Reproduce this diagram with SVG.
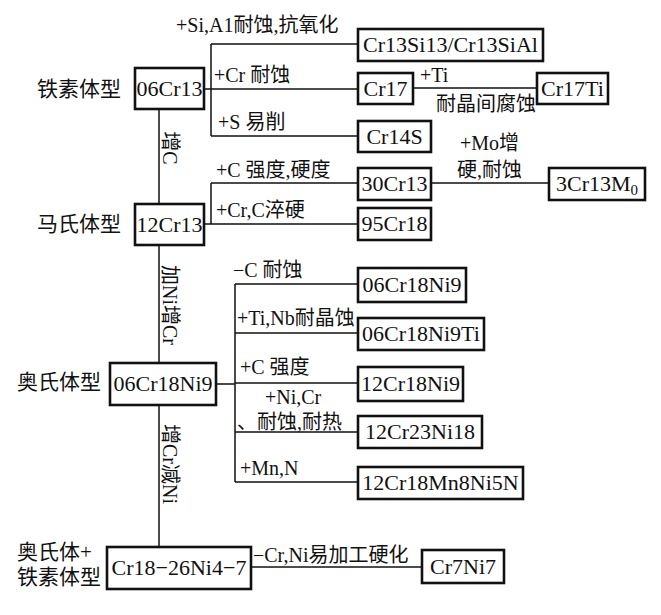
<svg xmlns="http://www.w3.org/2000/svg" width="661" height="615" viewBox="0 0 661 615">
<style>
.box{fill:#fff;stroke:#111;stroke-width:2.6}
.ln{fill:none;stroke:#111;stroke-width:1.5}
text{font-family:"Liberation Serif","Noto Sans CJK SC",serif;fill:#111}
.bt{font-size:22px;text-anchor:middle}
.lb{font-size:20px}
.cat{font-size:21px}
</style>
<rect width="661" height="615" fill="#fff"/>
<g id="connectors">
<path class="ln" d="M159 109V204M159 245V363M159 405V547"/>
<path class="ln" d="M204 89H211M211 44V136M211 44H358M211 89H358M211 136H358M413 88H537"/>
<path class="ln" d="M204 224H211M211 183V224M211 183H358M211 224H358M431 183H549"/>
<path class="ln" d="M216 384H235M235 284V482M235 284H358M235 333H358M235 383H358M235 432H358M235 482H358"/>
<path class="ln" d="M251 567H422"/>
</g>
<g id="edge-labels">
<text class="lb" x="176" y="32">+Si,A1耐蚀,抗氧化</text>
<text class="lb" x="214" y="82">+Cr 耐蚀</text>
<text class="lb" x="218" y="129">+S 易削</text>
<text class="lb" x="420" y="82">+Ti</text>
<text class="lb" x="436" y="111">耐晶间腐蚀</text>
<text class="lb" x="460" y="150">+Mo增</text>
<text class="lb" x="457" y="177">硬,耐蚀</text>
<text class="lb" x="216" y="177">+C 强度,硬度</text>
<text class="lb" x="216" y="217">+Cr,C淬硬</text>
<text class="lb" x="233" y="277">−C 耐蚀</text>
<text class="lb" x="237" y="325">+Ti,Nb耐晶蚀</text>
<text class="lb" x="240" y="374">+C 强度</text>
<text class="lb" x="265" y="404">+Ni,Cr</text>
<text class="lb" x="237" y="429">、耐蚀,耐热</text>
<text class="lb" x="240" y="475">+Mn,N</text>
<text class="lb" x="253" y="562">−Cr,Ni易加工硬化</text>
<text class="lb" transform="translate(163 148) rotate(90)" text-anchor="middle">增C</text>
<text class="lb" transform="translate(163 305) rotate(90)" text-anchor="middle">加Ni增Cr</text>
<text class="lb" transform="translate(163 464) rotate(90)" text-anchor="middle">增Cr减Ni</text>
</g>
<g id="categories">
<text class="cat" x="37" y="96">铁素体型</text>
<text class="cat" x="37" y="231">马氏体型</text>
<text class="cat" x="17" y="389">奥氏体型</text>
<text class="cat" x="17" y="559">奥氏体+</text>
<text class="cat" x="17" y="584">铁素体型</text>
</g>
<g id="n-06Cr13"><rect class="box" x="135" y="68" width="69" height="41"/><text class="bt" x="169.5" y="96">06Cr13</text></g>
<g id="n-12Cr13"><rect class="box" x="135" y="204" width="69" height="41"/><text class="bt" x="169.5" y="232">12Cr13</text></g>
<g id="n-06Cr18Ni9"><rect class="box" x="110" y="363" width="106" height="42"/><text class="bt" x="163" y="391">06Cr18Ni9</text></g>
<g id="n-Cr18-26Ni4-7"><rect class="box" x="107" y="547" width="144" height="42"/><text class="bt" x="179" y="575">Cr18−26Ni4−7</text></g>
<g id="n-Cr13Si13"><rect class="box" x="358" y="29" width="185" height="32"/><text class="bt" x="450.5" y="52">Cr13Si13/Cr13SiAl</text></g>
<g id="n-Cr17"><rect class="box" x="358" y="73" width="55" height="31"/><text class="bt" x="385.5" y="96">Cr17</text></g>
<g id="n-Cr17Ti"><rect class="box" x="537" y="73" width="71" height="31"/><text class="bt" x="572.5" y="96">Cr17Ti</text></g>
<g id="n-Cr14S"><rect class="box" x="358" y="121" width="73" height="31"/><text class="bt" x="394.5" y="144">Cr14S</text></g>
<g id="n-30Cr13"><rect class="box" x="358" y="168" width="73" height="32"/><text class="bt" x="394.5" y="191">30Cr13</text></g>
<g id="n-3Cr13M0"><rect class="box" x="549" y="168" width="96" height="32"/><text class="bt" x="597" y="191">3Cr13M<tspan font-size="15" dy="4">0</tspan></text></g>
<g id="n-95Cr18"><rect class="box" x="358" y="208" width="73" height="32"/><text class="bt" x="394.5" y="231">95Cr18</text></g>
<g id="n-r06Cr18Ni9"><rect class="box" x="358" y="268" width="108" height="34"/><text class="bt" x="412" y="292">06Cr18Ni9</text></g>
<g id="n-06Cr18Ni9Ti"><rect class="box" x="358" y="318" width="126" height="32"/><text class="bt" x="421" y="341">06Cr18Ni9Ti</text></g>
<g id="n-12Cr18Ni9"><rect class="box" x="358" y="367" width="105" height="34"/><text class="bt" x="410.5" y="391">12Cr18Ni9</text></g>
<g id="n-12Cr23Ni18"><rect class="box" x="358" y="416" width="124" height="32"/><text class="bt" x="420" y="439">12Cr23Ni18</text></g>
<g id="n-12Cr18Mn8Ni5N"><rect class="box" x="358" y="467" width="165" height="32"/><text class="bt" x="440.5" y="490">12Cr18Mn8Ni5N</text></g>
<g id="n-Cr7Ni7"><rect class="box" x="422" y="550" width="82" height="33"/><text class="bt" x="463" y="574">Cr7Ni7</text></g>
</svg>
